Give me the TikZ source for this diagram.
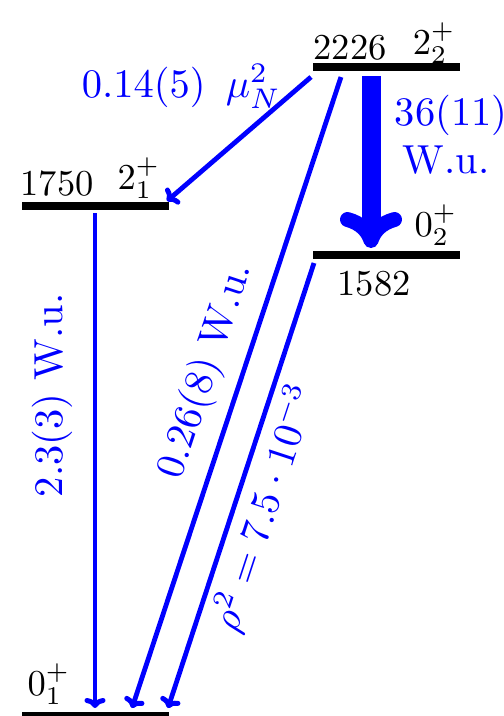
\RequirePackage{fix-cm}
\documentclass[tikz,border=0pt]{standalone}
\usetikzlibrary{arrows.meta}
\begin{document}
\begin{tikzpicture}[x=1pt,y=-1pt,
  level/.style={fill=black,inner sep=0pt,minimum width=147pt,minimum height=8pt},
  lab/.style={inner sep=0pt,font=\fontsize{10}{12}\selectfont,scale=3.65},
  blab/.style={inner sep=0pt,text=blue,font=\fontsize{10}{12}\selectfont,scale=4.05},
  tr/.style={draw=blue,line width=4.8pt,-{Computer Modern Rightarrow[length=10pt,width=21pt,line width=5pt]}},
  thick tr/.style={draw=blue,line width=19pt,-{Computer Modern Rightarrow[length=36pt,width=62pt,line width=15pt]}},
]
\useasboundingbox (0,0) rectangle (504,716);
% levels
\node[level] (L2226) at (386,67) {};
\node[level] (L1750) at (95,206) {};
\node[level] (L1582) at (386,255) {};
\node[level] (L0) at (95,716) {};
% level labels
\node[lab,anchor=base west] (e2226) at (313,59) {2226};
\node[lab,anchor=base east] (s2226) at (456,54) {$2_2^+$};
\node[lab,anchor=base west] (e1750) at (20,195) {1750};
\node[lab,anchor=base west] (s1750) at (117,189) {$2_1^+$};
\node[lab,anchor=base west] (s1582) at (414,236) {$0_2^+$};
\node[lab,anchor=base west] (e1582) at (337,295) {1582};
\node[lab,anchor=base west] (s0) at (27,695) {$0_1^+$};
% arrow end points
\coordinate (a1s) at (311,77); \coordinate (a1e) at (167,201);
\coordinate (a2s) at (341,77); \coordinate (a2e) at (132,708);
\coordinate (a3s) at (371,76); \coordinate (a3e) at (371,248);
\coordinate (a4s) at (95,213); \coordinate (a4e) at (95,708);
\coordinate (a5s) at (314,263); \coordinate (a5e) at (168,708);
% transitions
\draw[tr] (a1s) -- (a1e);
\draw[tr] (a2s) -- (a2e);
\draw[thick tr] (a3s) -- (a3e);
\draw[tr,line width=4.4pt] (a4s) -- (a4e);
\draw[tr] (a5s) -- (a5e);
% transition labels
\node[blab,anchor=base west] (b1) at (81,97) {$0.14(5)\enspace \mu_N^2$};
\node[blab,rotate=71.67,anchor=base] (b2) at (216,374) {0.26(8) W.u.};
\node[blab,anchor=base west] (b3a) at (394,125) {36(11)};
\node[blab,anchor=base west] (b3b) at (402,173) {W.u.};
\node[blab,rotate=90,anchor=base west] (b4) at (62,498) {2.3(3) W.u.};
\node[blab,rotate=71.84,anchor=base] (b5) at (277,512) {$\rho^2 = 7.5\cdot 10^{-3}$};
\end{tikzpicture}
\end{document}
